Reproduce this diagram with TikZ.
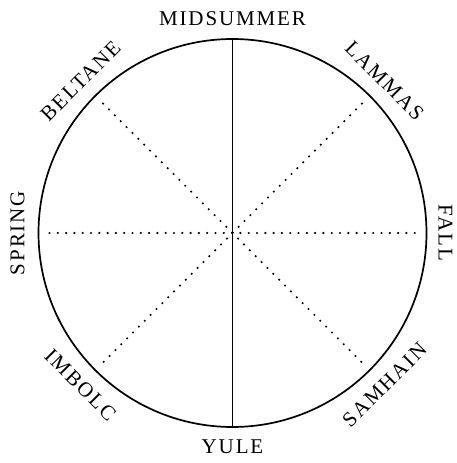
\documentclass[tikz,border=0pt]{standalone}
\usepackage{fontspec}
\setmainfont{Liberation Serif}
\newfontfamily\labfont[LetterSpace=9]{Liberation Serif}
\usetikzlibrary{calc}
\begin{document}
\begin{tikzpicture}[x=1pt,y=1pt,
  rim/.style={line width=1.7pt},
  axis/.style={line width=1.4pt},
  dotline/.style={line width=2.4pt, line cap=round, dash pattern=on 0pt off 8.3pt},
  season/.style={font=\labfont\fontsize{21}{21}\selectfont, inner sep=0pt, anchor=center}]
\useasboundingbox (0,0) rectangle (457,463);
\coordinate (c) at (232.5,230);
\draw[rim] (c) circle[radius=194];
% rim points
\coordinate (top) at ($(c)+(90:194)$);
\coordinate (bot) at ($(c)+(270:194)$);
\coordinate (w) at ($(c)+(180:183)$);
\coordinate (e) at ($(c)+(0:183)$);
\coordinate (nw) at ($(c)+(135:183)$);
\coordinate (ne) at ($(c)+(45:183)$);
\coordinate (sw) at ($(c)+(225:183)$);
\coordinate (se) at ($(c)+(315:183)$);
\draw[axis] (top) -- (bot);
\draw[dotline] (w) -- (e);
\draw[dotline] (nw) -- (se);
\draw[dotline] (ne) -- (sw);
% labels
\node[season] (midsummer) at ($(c)+(90:214)$) {MIDSUMMER};
\node[season] (yule) at ($(c)+(270:214)$) {YULE};
\node[season,rotate=90] (spring) at ($(c)+(180:215)$) {SPRING};
\node[season,rotate=-90] (fall) at ($(c)+(0:213)$) {FALL};
\node[season,rotate=45] (beltane) at ($(c)+(135:215)$) {BELTANE};
\node[season,rotate=-45] (lammas) at ($(c)+(45:215)$) {LAMMAS};
\node[season,rotate=-45] (imbolc) at ($(c)+(225:215)$) {IMBOLC};
\node[season,rotate=45] (samhain) at ($(c)+(315:215)$) {SAMHAIN};
\end{tikzpicture}
\end{document}
